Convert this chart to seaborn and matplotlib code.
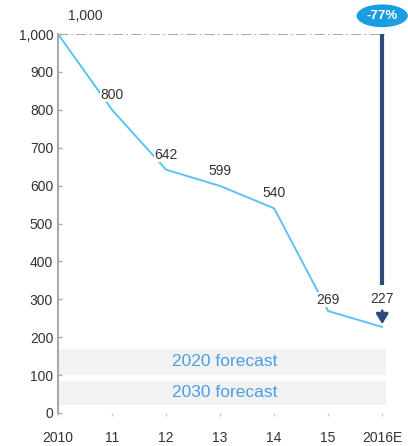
import matplotlib
matplotlib.use("Agg")
import matplotlib.pyplot as plt
import seaborn as sns
import pandas as pd
from matplotlib.patches import Ellipse

years = ["2010", "11", "12", "13", "14", "15", "2016E"]
values = [1000, 800, 642, 599, 540, 269, 227]
value_labels = ["1,000", "800", "642", "599", "540", "269", "227"]
band_names = ["2020 forecast", "2030 forecast"]
band_lo = [100, 22]
band_hi = [170, 84]
change_label = "-77%"

sns.set_theme(style="white")
plt.rcParams["font.family"] = ["Liberation Sans", "DejaVu Sans"]

FS = 10
fig = plt.figure(figsize=(4.08, 4.46), dpi=100)
ax = fig.add_axes([58/408, 33/446, (386-58)/408, (413-34)/446])

df = pd.DataFrame({"x": range(len(years)), "v": values})

for lo, hi, name in zip(band_lo, band_hi, band_names):
    ax.axhspan(lo, hi, color="#f2f2f2", zorder=0, lw=0)
    ax.text(3.08, (lo + hi) / 2, name, ha="center", va="center",
            color="#4a9fe3", fontsize=12.5, zorder=1)

sns.lineplot(data=df, x="x", y="v", ax=ax, color="#5cc3f5", lw=1.4, zorder=2)

ax.axhline(values[0], color="#9a9a9a", lw=1.2, ls=(0, (6, 2, 1, 2)), zorder=1)

# labels
for i, (v, lab) in enumerate(zip(values, value_labels)):
    if i == 0:
        ax.text(0.5, v + 47, lab, ha="center", va="center", fontsize=FS,
                color="#333333", clip_on=False)
    elif i == len(values) - 1:
        ax.text(i, v + 75, lab, ha="center", va="center", fontsize=FS,
                color="#333333", zorder=5,
                bbox=dict(facecolor="white", edgecolor="none", pad=0.5))
    elif i == 5:
        ax.text(i, v + 30, lab, ha="center", va="center", fontsize=FS,
                color="#333333", zorder=5,
                bbox=dict(facecolor="white", edgecolor="none", pad=0.5))
    else:
        ax.text(i, v + 40, lab, ha="center", va="center", fontsize=FS,
                color="#333333", zorder=5,
                bbox=dict(facecolor="white", edgecolor="none", pad=0.5))

last = len(values) - 1
ax.plot([last, last], [values[0], values[-1] + 110], color="#2e4a78", lw=3,
        zorder=4, solid_capstyle="butt")
ax.annotate("", xy=(last, values[-1]), xytext=(last, values[-1] + 50),
            arrowprops=dict(arrowstyle="-|>,head_length=0.5,head_width=0.3",
                            color="#2e4a78", lw=2), zorder=4)

ell = Ellipse((last, values[0] + 48), width=0.95, height=60, facecolor="#1b9de2",
              edgecolor="none", clip_on=False, zorder=6)
ax.add_patch(ell)
ax.text(last, values[0] + 48, change_label, ha="center", va="center",
        color="white", fontsize=9.5, fontweight="bold", zorder=7, clip_on=False)

ax.set_xlim(0, 6.07)
ax.set_ylim(0, 1000)
ax.set_xticks(range(len(years)))
ax.set_xticklabels(years)
ax.set_yticks(range(0, 1001, 100))
ax.set_yticklabels([f"{t:,}" for t in range(0, 1001, 100)])
ax.set_xlabel("")
ax.set_ylabel("")
for s in ["top", "right", "bottom"]:
    ax.spines[s].set_visible(False)
ax.spines["left"].set_color("#aaaaaa")
ax.spines["left"].set_linewidth(1.5)
ax.tick_params(axis="y", direction="in", length=3, color="#aaaaaa", width=1,
               labelsize=FS, labelcolor="#333333", left=True, pad=3.5)
ax.tick_params(axis="x", direction="out", length=2, color="#cccccc", width=1,
               labelsize=FS, labelcolor="#333333", bottom=True, pad=11)

fig.savefig("out.png", dpi=100)
